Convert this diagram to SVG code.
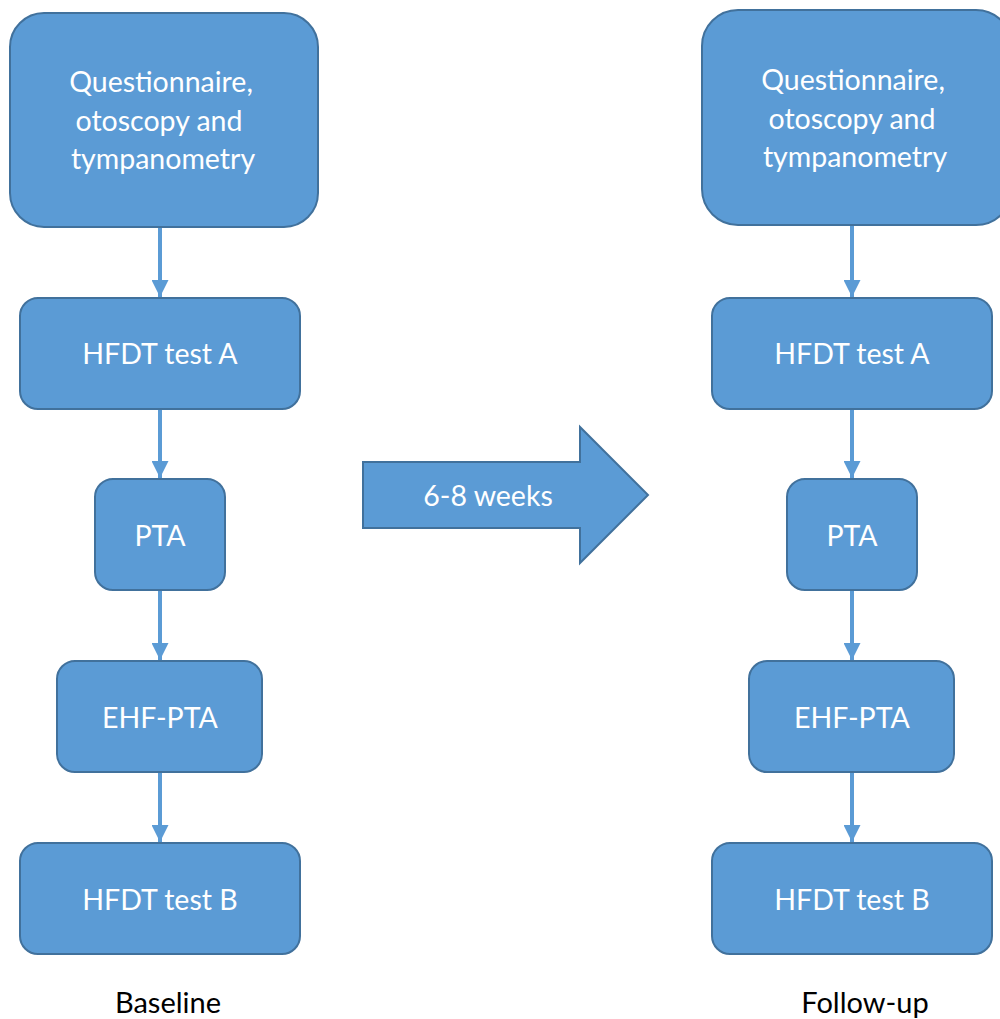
<svg xmlns="http://www.w3.org/2000/svg" width="1000" height="1019" viewBox="0 0 1000 1019">
  <style>
    .box { fill: #5B9BD5; stroke: #41719C; stroke-width: 2; }
    .lbl { fill: #FFFFFF; font-family: Lato, "Open Sans", sans-serif; font-size: 28.5px; text-anchor: middle; }
    .cap { fill: #000000; font-family: Lato, "Open Sans", sans-serif; font-size: 29px; text-anchor: middle; }
    .link { stroke: #5B9BD5; stroke-width: 4; fill: none; marker-end: url(#head); }
  </style>
  <defs>
    <marker id="head" viewBox="0 0 16 16" refX="16" refY="8" markerWidth="17" markerHeight="17" markerUnits="userSpaceOnUse" orient="auto">
      <path d="M0,0 L16,8 L0,16 Z" fill="#5B9BD5"/>
    </marker>
  </defs>

  <!-- connectors -->
  <g id="connectors">
    <line class="link" x1="160" y1="228" x2="160" y2="297"/>
    <line class="link" x1="160" y1="410" x2="160" y2="478"/>
    <line class="link" x1="160" y1="591" x2="160" y2="660"/>
    <line class="link" x1="160" y1="773" x2="160" y2="842"/>
    <line class="link" x1="852" y1="226" x2="852" y2="297"/>
    <line class="link" x1="852" y1="410" x2="852" y2="478"/>
    <line class="link" x1="852" y1="591" x2="852" y2="660"/>
    <line class="link" x1="852" y1="773" x2="852" y2="842"/>
  </g>

  <!-- baseline column -->
  <g id="b-questionnaire">
    <rect class="box" x="10" y="13" width="308" height="214" rx="34"/>
    <text class="lbl" x="161" y="92">Questionnaire,</text>
    <text class="lbl" x="159" y="131">otoscopy and</text>
    <text class="lbl" x="163" y="169">tympanometry</text>
  </g>
  <g id="b-hfdt-a">
    <rect class="box" x="20" y="298" width="280" height="111" rx="18"/>
    <text class="lbl" x="160" y="364">HFDT test A</text>
  </g>
  <g id="b-pta">
    <rect class="box" x="95" y="479" width="130" height="111" rx="18"/>
    <text class="lbl" x="160" y="546">PTA</text>
  </g>
  <g id="b-ehf-pta">
    <rect class="box" x="57" y="661" width="205" height="111" rx="18"/>
    <text class="lbl" x="160" y="728">EHF-PTA</text>
  </g>
  <g id="b-hfdt-b">
    <rect class="box" x="20" y="843" width="280" height="111" rx="18"/>
    <text class="lbl" x="160" y="910">HFDT test B</text>
  </g>
  <text class="cap" x="168" y="1013">Baseline</text>

  <!-- interval arrow -->
  <g id="interval">
    <path class="box" d="M363,462 L580,462 L580,427 L648,495 L580,563 L580,528 L363,528 Z"/>
    <text class="lbl" x="488" y="506">6-8 weeks</text>
  </g>

  <!-- follow-up column -->
  <g id="f-questionnaire">
    <rect class="box" x="702" y="10" width="310" height="215" rx="36"/>
    <text class="lbl" x="853" y="90">Questionnaire,</text>
    <text class="lbl" x="852" y="129">otoscopy and</text>
    <text class="lbl" x="855" y="167">tympanometry</text>
  </g>
  <g id="f-hfdt-a">
    <rect class="box" x="712" y="298" width="280" height="111" rx="18"/>
    <text class="lbl" x="852" y="364">HFDT test A</text>
  </g>
  <g id="f-pta">
    <rect class="box" x="787" y="479" width="130" height="111" rx="18"/>
    <text class="lbl" x="852" y="546">PTA</text>
  </g>
  <g id="f-ehf-pta">
    <rect class="box" x="749" y="661" width="205" height="111" rx="18"/>
    <text class="lbl" x="852" y="728">EHF-PTA</text>
  </g>
  <g id="f-hfdt-b">
    <rect class="box" x="712" y="843" width="280" height="111" rx="18"/>
    <text class="lbl" x="852" y="910">HFDT test B</text>
  </g>
  <text class="cap" x="865" y="1013">Follow-up</text>
</svg>
